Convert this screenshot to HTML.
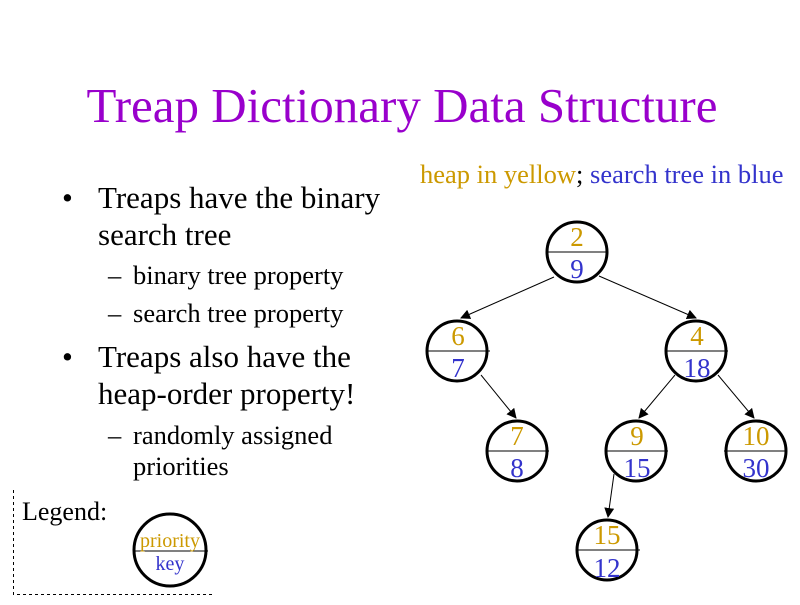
<!DOCTYPE html>
<html><head><meta charset="utf-8"><style>
body{margin:0;background:#fff}
svg text{font-family:"Liberation Serif",serif}
</style></head><body>
<svg width="800" height="600" viewBox="0 0 800 600" xmlns="http://www.w3.org/2000/svg">
<defs><marker id="a" markerWidth="10" markerHeight="10" refX="9" refY="5" orient="auto" markerUnits="userSpaceOnUse"><path d="M0,0 L10,5 L0,10 z" fill="#000"/></marker></defs>
<text x="402" y="122" font-size="49" fill="#9900cc" text-anchor="middle">Treap Dictionary Data Structure</text>
<g font-size="31" fill="#000">
<text x="62" y="208">•</text><text x="98" y="208">Treaps have the binary</text>
<text x="98" y="245">search tree</text>
<text x="62" y="367">•</text><text x="98" y="367">Treaps also have the</text>
<text x="98" y="404">heap-order property!</text>
</g>
<g font-size="26.5" fill="#000">
<text x="108" y="284">–</text><text x="133" y="284">binary tree property</text>
<text x="108" y="322">–</text><text x="133" y="322">search tree property</text>
<text x="108" y="444">–</text><text x="133" y="444">randomly assigned</text>
<text x="133" y="475">priorities</text>
</g>
<text x="420" y="183" font-size="26.5"><tspan fill="#cc9900">heap in yellow</tspan><tspan fill="#000">; </tspan><tspan fill="#3333cc">search tree in blue</tspan></text>
<g stroke="#000" stroke-width="1" marker-end="url(#a)">
<line x1="554" y1="277" x2="461" y2="318"/>
<line x1="599" y1="276" x2="696" y2="318"/>
<line x1="481" y1="375" x2="516" y2="418"/>
<line x1="675" y1="375" x2="639" y2="418"/>
<line x1="718" y1="375" x2="754" y2="418"/>
<line x1="614" y1="474" x2="608" y2="517"/>
</g>
<g stroke="#000" fill="none">
<circle cx="577" cy="252" r="30" stroke-width="3"/><line x1="547" y1="252" x2="608" y2="252"/>
<circle cx="457" cy="351" r="30" stroke-width="3"/><line x1="427" y1="351" x2="490" y2="351"/>
<circle cx="696" cy="351" r="30" stroke-width="3"/><line x1="666" y1="351" x2="728" y2="351"/>
<circle cx="517" cy="451" r="30" stroke-width="3"/><line x1="486" y1="451" x2="549" y2="451"/>
<circle cx="636" cy="451" r="30" stroke-width="3"/><line x1="605" y1="451" x2="668" y2="451"/>
<circle cx="756" cy="451" r="30" stroke-width="3"/><line x1="724" y1="451" x2="787" y2="451"/>
<circle cx="607" cy="550" r="30" stroke-width="3"/><line x1="577" y1="550" x2="640" y2="550"/>
<circle cx="170" cy="550" r="36" stroke-width="3"/><line x1="133" y1="551" x2="208" y2="551"/>
</g>
<g font-size="27" text-anchor="middle">
<g fill="#cc9900">
<text x="577" y="246">2</text><text x="458" y="345">6</text><text x="697" y="345">4</text>
<text x="517" y="445">7</text><text x="637" y="445">9</text><text x="756" y="445">10</text><text x="607" y="544">15</text>
</g>
<g fill="#3333cc">
<text x="577" y="278">9</text><text x="458" y="377">7</text><text x="697" y="377">18</text>
<text x="517" y="477">8</text><text x="637" y="477">15</text><text x="756" y="477">30</text><text x="607" y="577">12</text>
</g>
</g>
<text x="22" y="520" font-size="26" fill="#000">Legend:</text>
<text x="170" y="547" font-size="20" fill="#cc9900" text-anchor="middle">priority</text>
<text x="170" y="570" font-size="20" fill="#3333cc" text-anchor="middle">key</text>
<path d="M13.5,490 V594.5 H214" fill="none" stroke="#000" stroke-dasharray="3,3"/>
</svg>
</body></html>
